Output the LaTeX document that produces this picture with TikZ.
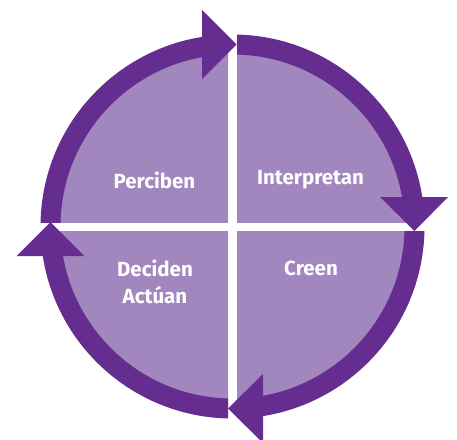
\documentclass[tikz,border=0pt]{standalone}
\usepackage{fontspec}
\setmainfont{Fira Sans}
\definecolor{ringpurple}{RGB}{102,45,145}
\definecolor{fillpurple}{RGB}{161,135,189}
\begin{document}
\begin{tikzpicture}[x=1pt,y=-1pt,
  ring/.style={draw=ringpurple,line width=20pt},
  head/.style={fill=ringpurple},
  lbl/.style={text=white,font=\fontsize{20.5}{27}\selectfont\bfseries,align=center,inner sep=0pt}]
\useasboundingbox (0,0) rectangle (457,439);
\coordinate (C) at (232.5,226.5);
% light quadrants
\begin{scope}\clip (0,0) rectangle (228,222); \fill[fillpurple] (C) circle[radius=180pt];\end{scope}
\begin{scope}\clip (237,0) rectangle (457,222); \fill[fillpurple] (C) circle[radius=180pt];\end{scope}
\begin{scope}\clip (237,231) rectangle (457,439); \fill[fillpurple] (C) circle[radius=180pt];\end{scope}
\begin{scope}\clip (0,231) rectangle (228,439); \fill[fillpurple] (C) circle[radius=180pt];\end{scope}
% ring segments
\begin{scope}\clip (0,0) rectangle (202,222); \draw[ring] (C) circle[radius=182pt];\end{scope}
\begin{scope}\clip (237,0) rectangle (457,197); \draw[ring] (C) circle[radius=182pt];\end{scope}
\begin{scope}\clip (263,231) rectangle (457,460); \draw[ring] (C) circle[radius=182pt];\end{scope}
\begin{scope}\clip (0,256) rectangle (228,460); \draw[ring] (C) circle[radius=182pt];\end{scope}
% arrowheads
\fill[head] (202,10) -- (236.5,44.5) -- (202,79) -- cycle;
\fill[head] (380,197) -- (448,197) -- (414.5,231) -- cycle;
\fill[head] (263,374) -- (228,408.5) -- (263,443) -- cycle;
\fill[head] (16.5,256) -- (50.5,222) -- (84.5,256) -- cycle;
% labels
\node[lbl] (perciben) at (154.5,180) {Perciben};
\node[lbl] (interpretan) at (310.5,180) {Interpretan};
\node[lbl] (creen) at (311,268) {Creen};
\node[lbl] (decide) at (155,282) {Deciden\\Actúan};
\end{tikzpicture}
\end{document}
